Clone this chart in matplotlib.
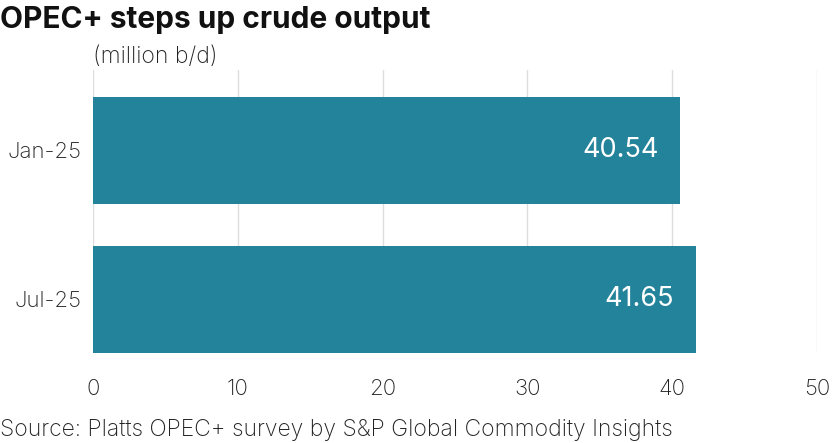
import matplotlib
matplotlib.use("Agg")
from matplotlib import pyplot as plt

categories = ["Jan-25", "Jul-25"]
values = [40.54, 41.65]
xticks = [0, 10, 20, 30, 40, 50]

plt.rcParams["font.family"] = ["Inter", "DejaVu Sans"]

bar_color = "#23839b"
text_color = "#222222"

fig = plt.figure(figsize=(8.4, 4.43), dpi=100)
ax = fig.add_axes([93 / 840, 1 - 353 / 443, (817 - 93) / 840, (353 - 70) / 443])

ypos = list(range(len(categories)))
ax.barh(ypos, values, height=0.718, color=bar_color, zorder=2)

for y, v in zip(ypos, values):
    ax.text(v - 1.5, y, f"{v:.2f}", color="white", fontsize=19.5,
            ha="right", va="center", zorder=3)

ax.set_xlim(0, 50)
ax.set_ylim(1.359, -0.540)
ax.set_xticks(xticks)
ax.set_xticklabels([str(t) for t in xticks])
ax.set_yticks(ypos)
ax.set_yticklabels(categories)
ax.tick_params(axis="both", length=0, labelsize=16, colors=text_color)
ax.tick_params(axis="x", pad=19)
ax.tick_params(axis="y", pad=8)
for lab in ax.get_xticklabels() + ax.get_yticklabels():
    lab.set_fontweight("light")
ax.grid(axis="x", color="#dddddd", linewidth=1, zorder=0)
for s in ax.spines.values():
    s.set_visible(False)

fig.text(0.0, 1 - 20 / 443, "OPEC+ steps up crude output", fontsize=21.5,
         fontweight="bold", color="#111111", ha="left", va="center")
fig.text(93 / 840, 1 - 57 / 443, "(million b/d)", fontsize=16.5,
         fontweight="light", color=text_color, ha="left", va="center")
fig.text(0.0, 1 - 430 / 443, "Source: Platts OPEC+ survey by S&P Global Commodity Insights",
         fontsize=16.5, fontweight="light", color=text_color, ha="left", va="center")

plt.savefig("out.png", dpi=100)
